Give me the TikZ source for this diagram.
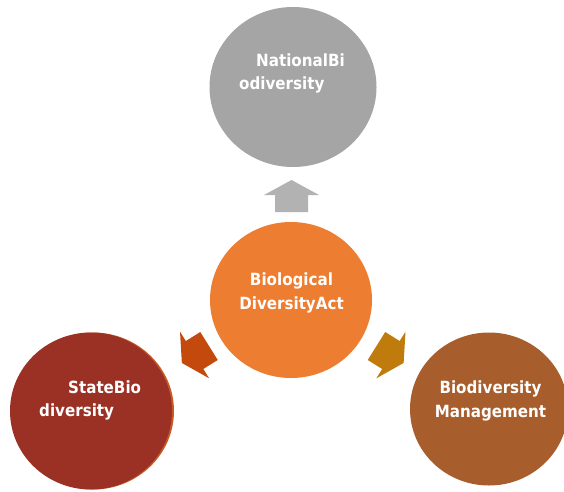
\documentclass[tikz,border=0pt]{standalone}
\usepackage{fontspec}
\setmainfont{DejaVu Sans}[FakeStretch=0.9]
\usetikzlibrary{shapes.geometric}
\definecolor{cgray}{HTML}{A5A5A5}
\definecolor{carrowgray}{HTML}{B2B2B2}
\definecolor{corange}{HTML}{ED7D31}
\definecolor{cred}{HTML}{9B3125}
\definecolor{cshadow}{HTML}{C65B26}
\definecolor{carrowred}{HTML}{C4490D}
\definecolor{carrowgold}{HTML}{BF7B0C}
\definecolor{cbrown}{HTML}{A85D2C}
\begin{document}
\begin{tikzpicture}[x=1pt,y=1pt,
  bubble/.style={ellipse, inner sep=0pt, draw=none},
  lbl/.style={text=white, font=\fontsize{16.8}{23.5}\selectfont\bfseries, inner sep=0pt},
  blockarrow/.pic={\fill[pic actions] (-16.5,0) -- (16.5,0) -- (16.5,17) -- (27.5,17) -- (0,32) -- (-27.5,17) -- (-16.5,17) -- cycle;}]
\useasboundingbox (0,0) rectangle (564,491);
% circles
\node[bubble, fill=cshadow, minimum width=162pt, minimum height=157pt] (stateshadow) at (93,80) {};
\node[bubble, fill=cgray, minimum width=167pt, minimum height=160pt] (national) at (293,404) {};
\node[bubble, fill=corange, minimum width=162pt, minimum height=156pt] (act) at (291,191) {};
\node[bubble, fill=cred, minimum width=162pt, minimum height=157pt] (state) at (91,80) {};
\node[bubble, fill=cbrown, minimum width=158pt, minimum height=153pt] (mgmt) at (489,82) {};
% arrows
\pic[fill=carrowgray] (uparrow) at (291.5,279) {blockarrow};
\pic[fill=carrowred, rotate=122] (leftarrow) at (209,145) {blockarrow};
\pic[fill=carrowgold, rotate=-122] (rightarrow) at (376.5,145) {blockarrow};
% labels (base anchor = baseline of the last line)
\node[lbl, align=left, anchor=base west] (tnational) at (239,401) {\hspace*{17pt}NationalBi\\odiversity};
\node[lbl, align=left, anchor=base west] (tstate) at (39,74.5) {\hspace*{29pt}StateBio\\diversity};
\node[lbl, align=center, anchor=base] (tact) at (291.5,182) {Biological\\DiversityAct};
\node[lbl, align=center, anchor=base] (tmgmt) at (490.5,74) {Biodiversity\\Management};
\end{tikzpicture}
\end{document}
